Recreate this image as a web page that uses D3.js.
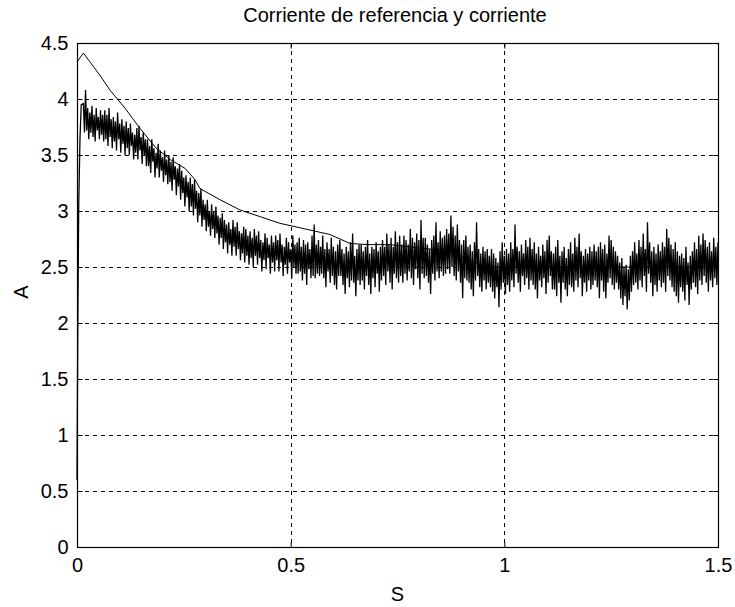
<!DOCTYPE html>
<html>
<head>
<meta charset="utf-8">
<script src="https://cdn.jsdelivr.net/npm/d3@7"></script>
<style>
body { margin: 0; background: #fff; }
text { font-family: "Liberation Sans", Arial, sans-serif; fill: #000; }
</style>
</head>
<body>
<div id="chart"></div>
<script>

var xTicks = [0, 0.5, 1, 1.5];
var yTicks = [0, 0.5, 1, 1.5, 2, 2.5, 3, 3.5, 4, 4.5];

// reference current (thin line)
var refT = [0, 0.015, 0.054, 0.077, 0.112, 0.147, 0.183, 0.218, 0.253, 0.276, 0.288, 0.335, 0.381, 0.428, 0.475, 0.522, 0.592, 0.639, 0.681, 0.732, 0.80, 0.88, 0.92, 0.96, 1.5];
var refA = [4.33, 4.41, 4.21, 4.08, 3.92, 3.74, 3.57, 3.46, 3.38, 3.28, 3.20, 3.10, 3.01, 2.95, 2.89, 2.85, 2.79, 2.71, 2.70, 2.70, 2.67, 2.64, 2.55, 2.50, 2.50];

// measured current: start-up rise, then samples every 2.5 ms
var riseT = [0, 0.002, 0.004, 0.007, 0.010];
var riseA = [0.6, 2.05, 3.05, 3.65, 3.95];
var measStart = 0.015, measStep = 0.0025;
var measA = [
  3.96, 3.70, 4.08, 3.72, 3.92, 3.64, 3.88, 3.70, 3.94, 3.66, 3.86, 3.62, 3.92, 3.72, 3.84, 3.64, 3.90, 3.68, 3.86, 3.62,
  3.90, 3.64, 3.86, 3.58, 3.92, 3.66, 3.82, 3.56, 3.84, 3.62, 3.80, 3.54, 3.88, 3.64, 3.78, 3.52, 3.82, 3.60, 3.76, 3.50,
  3.80, 3.56, 3.74, 3.50, 3.78, 3.58, 3.70, 3.46, 3.68, 3.52, 3.74, 3.46, 3.76, 3.54, 3.66, 3.42, 3.70, 3.50, 3.64, 3.40,
  3.64, 3.40, 3.58, 3.34, 3.64, 3.44, 3.56, 3.30, 3.52, 3.38, 3.60, 3.30, 3.54, 3.36, 3.48, 3.26, 3.54, 3.32, 3.46, 3.24,
  3.50, 3.26, 3.44, 3.18, 3.48, 3.28, 3.40, 3.14, 3.38, 3.22, 3.42, 3.10, 3.36, 3.16, 3.30, 3.04, 3.32, 3.12, 3.26, 3.00,
  3.30, 3.04, 3.24, 2.96, 3.28, 3.02, 3.18, 2.90, 3.16, 2.96, 3.20, 2.86, 3.10, 2.92, 3.06, 2.82, 3.10, 2.86, 3.00, 2.78,
  3.06, 2.84, 3.00, 2.76, 3.04, 2.80, 2.96, 2.70, 2.94, 2.76, 2.98, 2.66, 2.92, 2.72, 2.88, 2.62, 2.90, 2.70, 2.84, 2.60,
  2.92, 2.68, 2.86, 2.60, 2.90, 2.66, 2.82, 2.56, 2.80, 2.62, 2.86, 2.54, 2.84, 2.60, 2.78, 2.52, 2.82, 2.58, 2.76, 2.50,
  2.84, 2.60, 2.78, 2.52, 2.82, 2.58, 2.74, 2.46, 2.72, 2.56, 2.80, 2.48, 2.76, 2.58, 2.70, 2.44, 2.78, 2.54, 2.72, 2.46,
  2.78, 2.56, 2.74, 2.46, 2.80, 2.54, 2.70, 2.42, 2.68, 2.52, 2.76, 2.44, 2.72, 2.54, 2.66, 2.40, 2.78, 2.50, 2.70, 2.44,
  2.72, 2.44, 2.76, 2.46, 2.68, 2.38, 2.74, 2.44, 2.70, 2.34, 2.72, 2.48, 2.66, 2.40, 2.78, 2.42, 2.88, 2.40, 2.70, 2.44,
  2.74, 2.42, 2.68, 2.44, 2.78, 2.40, 2.66, 2.32, 2.72, 2.46, 2.66, 2.36, 2.76, 2.42, 2.68, 2.34, 2.64, 2.30, 2.70, 2.42,
  2.74, 2.42, 2.66, 2.34, 2.62, 2.26, 2.68, 2.40, 2.64, 2.32, 2.72, 2.38, 2.80, 2.36, 2.60, 2.24, 2.66, 2.38, 2.70, 2.34,
  2.70, 2.38, 2.64, 2.30, 2.68, 2.42, 2.74, 2.34, 2.62, 2.26, 2.68, 2.40, 2.66, 2.32, 2.72, 2.44, 2.64, 2.28, 2.68, 2.38,
  2.74, 2.42, 2.68, 2.34, 2.80, 2.46, 2.70, 2.36, 2.76, 2.30, 2.68, 2.44, 2.82, 2.40, 2.72, 2.36, 2.78, 2.42, 2.70, 2.36,
  2.78, 2.44, 2.74, 2.38, 2.70, 2.46, 2.84, 2.40, 2.76, 2.34, 2.72, 2.48, 2.80, 2.40, 2.74, 2.30, 2.92, 2.44, 2.76, 2.40,
  2.76, 2.42, 2.70, 2.36, 2.66, 2.26, 2.74, 2.44, 2.78, 2.38, 2.90, 2.46, 2.72, 2.40, 2.82, 2.46, 2.76, 2.42, 2.78, 2.44,
  2.84, 2.48, 2.80, 2.44, 2.96, 2.50, 2.86, 2.42, 2.78, 2.38, 2.88, 2.46, 2.74, 2.36, 2.70, 2.22, 2.74, 2.40, 2.78, 2.38,
  2.68, 2.36, 2.70, 2.30, 2.64, 2.24, 2.72, 2.38, 2.90, 2.42, 2.66, 2.32, 2.62, 2.28, 2.68, 2.38, 2.64, 2.30, 2.66, 2.36,
  2.60, 2.32, 2.66, 2.28, 2.62, 2.22, 2.58, 2.32, 2.54, 2.14, 2.64, 2.30, 2.72, 2.36, 2.60, 2.26, 2.66, 2.34, 2.62, 2.28,
  2.72, 2.38, 2.66, 2.32, 2.88, 2.44, 2.68, 2.36, 2.64, 2.28, 2.70, 2.42, 2.62, 2.34, 2.74, 2.40, 2.68, 2.30, 2.76, 2.38,
  2.66, 2.34, 2.72, 2.30, 2.62, 2.22, 2.68, 2.38, 2.60, 2.32, 2.70, 2.40, 2.64, 2.26, 2.74, 2.36, 2.78, 2.42, 2.64, 2.30,
  2.62, 2.30, 2.68, 2.24, 2.74, 2.36, 2.60, 2.18, 2.64, 2.36, 2.68, 2.30, 2.58, 2.24, 2.66, 2.34, 2.72, 2.32, 2.62, 2.28,
  2.76, 2.38, 2.68, 2.32, 2.80, 2.40, 2.64, 2.24, 2.60, 2.36, 2.66, 2.28, 2.62, 2.38, 2.68, 2.30, 2.64, 2.34, 2.70, 2.38,
  2.64, 2.32, 2.68, 2.22, 2.72, 2.38, 2.66, 2.28, 2.70, 2.22, 2.62, 2.36, 2.78, 2.40, 2.74, 2.34, 2.68, 2.30, 2.64, 2.36,
  2.60, 2.30, 2.54, 2.22, 2.58, 2.16, 2.50, 2.24, 2.52, 2.12, 2.48, 2.20, 2.60, 2.28, 2.64, 2.34, 2.72, 2.36, 2.62, 2.30,
  2.74, 2.38, 2.68, 2.32, 2.80, 2.42, 2.66, 2.28, 2.90, 2.44, 2.72, 2.36, 2.64, 2.24, 2.68, 2.34, 2.62, 2.28, 2.70, 2.38,
  2.64, 2.32, 2.72, 2.36, 2.68, 2.28, 2.84, 2.42, 2.76, 2.38, 2.70, 2.32, 2.66, 2.28, 2.72, 2.24, 2.64, 2.18, 2.60, 2.32,
  2.62, 2.28, 2.58, 2.20, 2.68, 2.34, 2.54, 2.16, 2.60, 2.30, 2.64, 2.36, 2.72, 2.32, 2.66, 2.26, 2.78, 2.38, 2.70, 2.34,
  2.80, 2.42, 2.74, 2.36, 2.68, 2.28, 2.72, 2.38, 2.64, 2.32, 2.76, 2.40, 2.68, 2.34, 2.72
];

var W = 735, H = 607;
var pLeft = 77, pRight = 718, pTop = 43, pBottom = 547;

var svg = d3.select("#chart").append("svg")
  .attr("width", W)
  .attr("height", H);

var x = d3.scaleLinear().domain([0, 1.5]).range([pLeft, pRight]);
var y = d3.scaleLinear().domain([0, 4.5]).range([pBottom, pTop]);

// grid lines
svg.append("g")
  .selectAll("line")
  .data(xTicks.slice(1, -1))
  .enter().append("line")
    .attr("x1", d => Math.round(x(d)) + 0.5)
    .attr("x2", d => Math.round(x(d)) + 0.5)
    .attr("y1", pTop)
    .attr("y2", pBottom)
    .attr("stroke", "#000")
    .attr("stroke-dasharray", "4,4");

svg.append("g")
  .selectAll("line")
  .data(yTicks.slice(1, -1))
  .enter().append("line")
    .attr("x1", pLeft)
    .attr("x2", pRight)
    .attr("y1", d => Math.round(y(d)) + 0.5)
    .attr("y2", d => Math.round(y(d)) + 0.5)
    .attr("stroke", "#000")
    .attr("stroke-dasharray", "4,4");

// measured current
var meas = riseT.map((t, i) => [t, riseA[i]])
  .concat(measA.map((a, i) => [measStart + i * measStep, a]));

var line = d3.line().x(d => x(d[0])).y(d => y(d[1]));

svg.append("path")
  .datum(meas)
  .attr("d", line)
  .attr("fill", "none")
  .attr("stroke", "#000")
  .attr("stroke-width", 1.3);

// reference current
svg.append("path")
  .datum(refT.map((t, i) => [t, refA[i]]))
  .attr("d", line)
  .attr("fill", "none")
  .attr("stroke", "#000")
  .attr("stroke-width", 1);

// axes with inward ticks
svg.append("g")
  .attr("transform", "translate(0," + (pBottom + 0.5) + ")")
  .call(d3.axisBottom(x).tickValues(xTicks).tickSize(-5).tickPadding(10).tickFormat(d3.format("")))
  .call(g => g.select(".domain").remove())
  .selectAll("text").style("font-size", "20px");

svg.append("g")
  .attr("transform", "translate(" + (pLeft + 0.5) + ",0)")
  .call(d3.axisLeft(y).tickValues(yTicks).tickSize(-5).tickPadding(9).tickFormat(d3.format("")))
  .call(g => g.select(".domain").remove())
  .selectAll("text").style("font-size", "20px");

svg.append("g")
  .attr("transform", "translate(0," + (pTop + 0.5) + ")")
  .call(d3.axisTop(x).tickValues(xTicks).tickSize(-5).tickFormat(""))
  .call(g => g.select(".domain").remove());

svg.append("g")
  .attr("transform", "translate(" + (pRight + 0.5) + ",0)")
  .call(d3.axisRight(y).tickValues(yTicks).tickSize(-5).tickFormat(""))
  .call(g => g.select(".domain").remove());

// box
svg.append("rect")
  .attr("x", pLeft + 0.5)
  .attr("y", pTop + 0.5)
  .attr("width", pRight - pLeft)
  .attr("height", pBottom - pTop)
  .attr("fill", "none")
  .attr("stroke", "#000")
  .attr("stroke-width", 1.2);

svg.append("text")
  .attr("x", 395)
  .attr("y", 22)
  .attr("text-anchor", "middle")
  .style("font-size", "20px")
  .text("Corriente de referencia y corriente");

svg.append("text")
  .attr("x", (pLeft + pRight) / 2)
  .attr("y", 601)
  .attr("text-anchor", "middle")
  .style("font-size", "20px")
  .text("S");

svg.append("text")
  .attr("transform", "translate(28,292)rotate(-90)")
  .attr("text-anchor", "middle")
  .style("font-size", "20px")
  .text("A");

</script>
</body>
</html>
